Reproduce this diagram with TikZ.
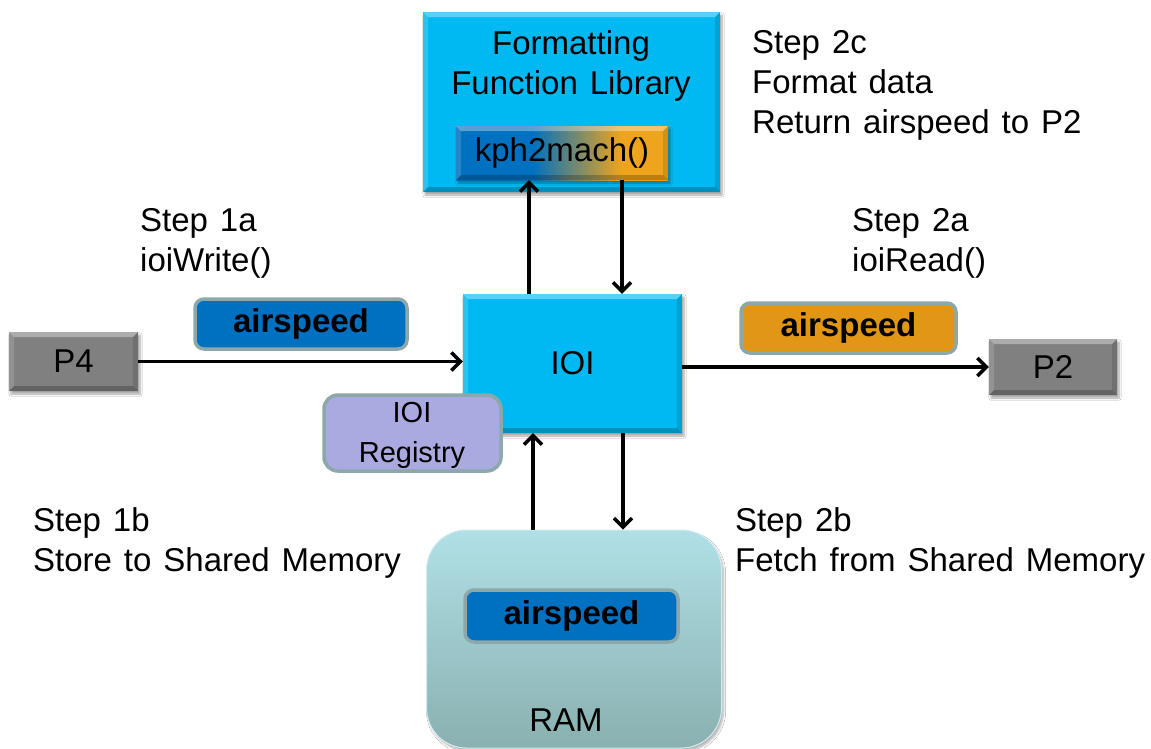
\documentclass[tikz,border=0pt]{standalone}
\usepackage{fontspec}
\setmainfont[WordSpace=1.3]{Liberation Sans}
\usetikzlibrary{shadows.blur,calc,arrows.meta}
\definecolor{cyanbox}{RGB}{0,185,242}
\definecolor{grayp}{RGB}{128,128,128}
\definecolor{kblue}{RGB}{0,112,192}
\definecolor{korange}{RGB}{238,164,28}
\definecolor{aorange}{RGB}{225,150,22}
\definecolor{bordteal}{RGB}{140,168,170}
\definecolor{lavender}{RGB}{170,170,225}
\definecolor{ramtop}{RGB}{176,224,230}
\definecolor{rambot}{RGB}{138,176,176}
\pgfdeclarehorizontalshading{kphshade}{100bp}{color(0bp)=(kblue); color(43bp)=(kblue); color(64bp)=(korange); color(100bp)=(korange)}
\newcommand{\mytxt}[1]{\fontsize{#1}{40}\selectfont}
\tikzset{
  bevel/.style={path picture={
    \path (path picture bounding box.north west) coordinate (bnw)
          (path picture bounding box.south east) coordinate (bse);
    \fill[white,opacity=.35] (bnw) -- (bse|-bnw) -- ($(bse|-bnw)+(-5pt,-5pt)$) -- ($(bnw)+(5pt,-5pt)$) -- cycle;
    \fill[black,opacity=.22] (bse) -- (bnw|-bse) -- ($(bnw|-bse)+(5pt,5pt)$) -- ($(bse)+(-5pt,5pt)$) -- cycle;
    \fill[white,opacity=.15] (bnw) -- ($(bnw)+(5pt,-5pt)$) -- ($(bnw|-bse)+(5pt,5pt)$) -- (bnw|-bse) -- cycle;
    \fill[black,opacity=.12] (bse|-bnw) -- ($(bse|-bnw)+(-5pt,-5pt)$) -- ($(bse)+(-5pt,5pt)$) -- (bse) -- cycle;
  }},
  box3d/.style={inner sep=0pt, anchor=center, bevel,
    blur shadow={shadow xshift=2pt, shadow yshift=-3pt, shadow blur steps=6, shadow opacity=35},
    font=\mytxt{33}},
  tag/.style={inner sep=0pt, anchor=center, rounded corners=9pt, draw=bordteal, line width=3.5pt,
    font=\mytxt{33}\bfseries},
  txt/.style={inner sep=0pt, align=left, anchor=north west, font=\mytxt{33}},
  arr/.style={line width=3.5pt, -{Straight Barb[length=9pt,width=18pt,line width=3.5pt]}},
}
\begin{document}
\begin{tikzpicture}[x=1pt,y=-1pt]
\fill[white] (0,0) rectangle (1151,748);
\useasboundingbox (0,0) rectangle (1151,748);

% Formatting Function Library
\node[box3d, fill=cyanbox, minimum width=297pt, minimum height=180pt] (ffl) at (571.5,102) {};
\node[inner sep=0pt, anchor=north, align=center, font=\mytxt{33}] (ffltext) at (571,30) {Formatting\\Function Library};
\node[box3d, shading=kphshade, minimum width=212pt, minimum height=54pt] (kph) at (562,153) {kph2mach()};

% IOI
\node[box3d, fill=cyanbox, minimum width=219pt, minimum height=139pt] (ioi) at (572.5,363.5) {IOI};

% P boxes
\node[box3d, fill=grayp, minimum width=129pt, minimum height=59pt] (p4) at (73.5,361.5) {P4};
\node[box3d, fill=grayp, minimum width=128pt, minimum height=56pt] (p2) at (1053,367) {P2};

% airspeed tags
\node[tag, fill=kblue, minimum width=212pt, minimum height=50pt] (asl) at (301,324) {airspeed};
\node[tag, fill=aorange, minimum width=215pt, minimum height=50pt] (asr) at (848.5,328) {airspeed};

% IOI Registry
\node[inner sep=0pt, anchor=center, rounded corners=14pt, draw=bordteal, line width=3.5pt, fill=lavender,
      minimum width=177pt, minimum height=76pt] (reg) at (412.5,433) {};
\node[inner sep=0pt, anchor=north, align=center, font=\mytxt{29}] (regtext) at (412,402) {IOI\\Registry};

% RAM
\node[inner sep=0pt, anchor=center, rounded corners=40pt, top color=ramtop, bottom color=rambot,
      draw=ramtop!60!white, line width=1pt,
      blur shadow={shadow xshift=2pt, shadow yshift=-3pt, shadow blur steps=6, shadow opacity=30},
      minimum width=295pt, minimum height=218pt] (ram) at (574,639) {};
\node[inner sep=0pt, font=\mytxt{33}] (ramtext) at (566,720) {RAM};
\node[tag, fill=kblue, minimum width=213pt, minimum height=52pt] (asm) at (571.5,616) {airspeed};

% connectors
\draw[arr] (p4.east) -- (p4.east -| ioi.west);
\draw[arr] (p2.west -| ioi.east) -- (p2.west);
\draw[arr] ([xshift=-43.5pt]ioi.north) -- ([xshift=-43.5pt]ioi.north |- kph.south);
\draw[arr] ([xshift=49.5pt]ioi.north |- kph.south) -- ([xshift=49.5pt]ioi.north);
\draw[arr] ([xshift=-39.5pt]ioi.south |- ram.north) -- ([xshift=-39.5pt]ioi.south);
\draw[arr] ([xshift=50.5pt]ioi.south) -- ([xshift=50.5pt]ioi.south |- ram.north);

% step texts
\node[txt] (s2c) at (752,30) {Step 2c\\Format data\\Return airspeed to P2};
\node[txt] (s1a) at (140,208) {Step 1a\\ioiWrite()};
\node[txt] (s2a) at (852,208) {Step 2a\\ioiRead()};
\node[txt] (s1b) at (33,507) {Step 1b\\Store to Shared Memory};
\node[txt] (s2b) at (735,507) {Step 2b\\Fetch from Shared Memory};
\end{tikzpicture}
\end{document}
